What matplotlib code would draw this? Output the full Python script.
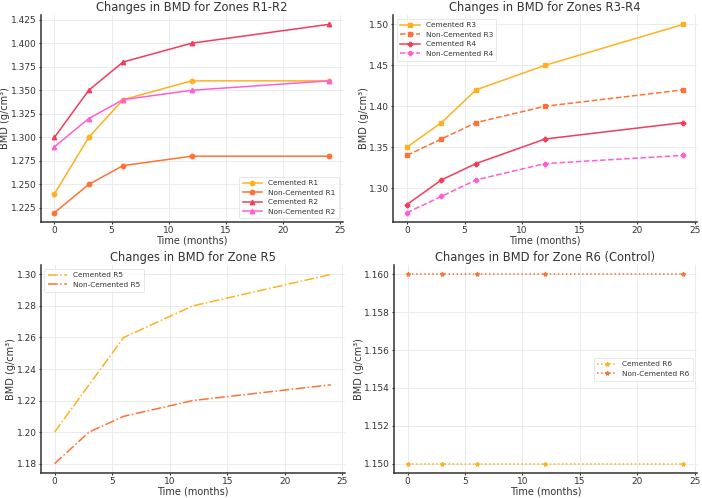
import matplotlib
matplotlib.use('Agg')
import matplotlib.pyplot as plt
from matplotlib.ticker import FormatStrFormatter

months = [0, 3, 6, 12, 24]

cem_r1 = [1.24, 1.30, 1.34, 1.36, 1.36]
non_r1 = [1.22, 1.25, 1.27, 1.28, 1.28]
cem_r2 = [1.30, 1.35, 1.38, 1.40, 1.42]
non_r2 = [1.29, 1.32, 1.34, 1.35, 1.36]

cem_r3 = [1.35, 1.38, 1.42, 1.45, 1.50]
non_r3 = [1.34, 1.36, 1.38, 1.40, 1.42]
cem_r4 = [1.28, 1.31, 1.33, 1.36, 1.38]
non_r4 = [1.27, 1.29, 1.31, 1.33, 1.34]

cem_r5 = [1.20, 1.23, 1.26, 1.28, 1.30]
non_r5 = [1.18, 1.20, 1.21, 1.22, 1.23]

cem_r6 = [1.15, 1.15, 1.15, 1.15, 1.15]
non_r6 = [1.16, 1.16, 1.16, 1.16, 1.16]

c_orange = '#FFB020'
c_dark_orange = '#FF7235'
c_red = '#F23C5C'
c_pink = '#FF5FD0'

plt.rcParams['font.family'] = 'DejaVu Sans'
plt.rcParams['axes.edgecolor'] = '#333333'
plt.rcParams['text.color'] = '#333333'
plt.rcParams['xtick.color'] = '#333333'
plt.rcParams['ytick.color'] = '#333333'
plt.rcParams['axes.labelcolor'] = '#333333'

fig = plt.figure(figsize=(7.02, 4.98), dpi=100)
ax1 = fig.add_axes([0.058, 0.554, 0.430, 0.416])
ax2 = fig.add_axes([0.560, 0.554, 0.433, 0.416])
ax3 = fig.add_axes([0.058, 0.050, 0.433, 0.418])
ax4 = fig.add_axes([0.561, 0.050, 0.432, 0.418])

lw = 1.1
ms = 3.2
leg_kw = dict(fontsize=5.3, handlelength=2.6, labelspacing=0.45, borderpad=0.5,
              handletextpad=0.8, framealpha=0.8, edgecolor='#dddddd')

ax1.plot(months, cem_r1, marker='o', ms=ms, lw=lw, color=c_orange, label='Cemented R1')
ax1.plot(months, non_r1, marker='o', ms=ms, lw=lw, color=c_dark_orange, label='Non-Cemented R1')
ax1.plot(months, cem_r2, marker='^', ms=ms, lw=lw, color=c_red, label='Cemented R2')
ax1.plot(months, non_r2, marker='^', ms=ms, lw=lw, color=c_pink, label='Non-Cemented R2')
ax1.set_title('Changes in BMD for Zones R1-R2')
ax1.set_yticks([1.225, 1.25, 1.275, 1.30, 1.325, 1.35, 1.375, 1.40, 1.425])
ax1.yaxis.set_major_formatter(FormatStrFormatter('%.3f'))
ax1.legend(loc='lower right', **leg_kw)

ax2.plot(months, cem_r3, marker='s', ms=ms, lw=lw, color=c_orange, label='Cemented R3')
ax2.plot(months, non_r3, marker='s', ms=ms, lw=lw, ls='--', color=c_dark_orange, label='Non-Cemented R3')
ax2.plot(months, cem_r4, marker='P', ms=ms, lw=lw, color=c_red, label='Cemented R4')
ax2.plot(months, non_r4, marker='P', ms=ms, lw=lw, ls='--', color=c_pink, label='Non-Cemented R4')
ax2.set_title('Changes in BMD for Zones R3-R4')
ax2.set_yticks([1.30, 1.35, 1.40, 1.45, 1.50])
ax2.yaxis.set_major_formatter(FormatStrFormatter('%.2f'))
ax2.legend(loc='upper left', **leg_kw)

ax3.plot(months, cem_r5, lw=lw, ls='-.', color=c_orange, label='Cemented R5')
ax3.plot(months, non_r5, lw=lw, ls='-.', color=c_dark_orange, label='Non-Cemented R5')
ax3.set_title('Changes in BMD for Zone R5')
ax3.yaxis.set_major_formatter(FormatStrFormatter('%.2f'))
ax3.legend(loc='upper left', **leg_kw)

ax4.plot(months, cem_r6, marker='*', ms=3, lw=lw, ls=':', color=c_orange, label='Cemented R6')
ax4.plot(months, non_r6, marker='*', ms=3, lw=lw, ls=':', color=c_dark_orange, label='Non-Cemented R6')
ax4.set_title('Changes in BMD for Zone R6 (Control)')
ax4.set_yticks([1.150, 1.152, 1.154, 1.156, 1.158, 1.160])
ax4.yaxis.set_major_formatter(FormatStrFormatter('%.3f'))
ax4.legend(loc='center right', **leg_kw)

for ax in [ax1, ax2, ax3, ax4]:
    ax.set_xlabel('Time (months)', fontsize=7, labelpad=0.5)
    ax.set_ylabel('BMD (g/cm³)', fontsize=7, labelpad=0.5)
    ax.set_title(ax.get_title(), fontsize=8.3, pad=3)
    ax.tick_params(labelsize=6.5, length=1.5, width=0.8, pad=1.2, color='#333333')
    ax.set_xticks([0, 5, 10, 15, 20, 25])
    ax.grid(True, color='#e8e8e8', lw=0.6)
    ax.spines['top'].set_visible(False)
    ax.spines['right'].set_visible(False)
    ax.spines['left'].set_linewidth(1.1)
    ax.spines['bottom'].set_linewidth(1.1)
    ax.get_legend().get_frame().set_linewidth(0.6)

plt.savefig('out.png')
